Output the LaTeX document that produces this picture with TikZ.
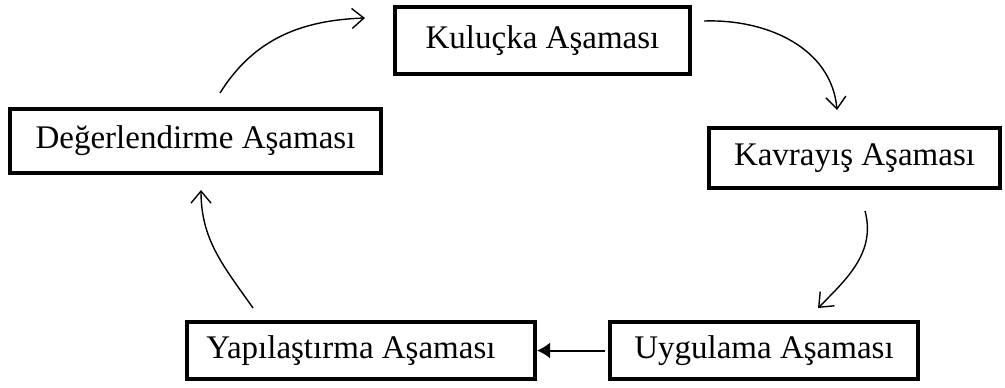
\documentclass[tikz,border=0pt]{standalone}
\usepackage{fontspec}
\setmainfont{Liberation Serif}
\usetikzlibrary{arrows.meta,calc}

\begin{document}
\begin{tikzpicture}[x=0.5pt,y=0.5pt,
  stage/.style={draw,line width=2pt,rectangle,inner sep=0pt,
    font=\fontsize{16.5}{19}\selectfont},
  flow/.style={line width=0.7pt,-{Straight Barb[length=6pt,width=10pt,line width=0.7pt]}},
  push/.style={line width=1pt,-{Latex[length=6.5pt,width=8pt]}}
]
\useasboundingbox (0,0) rectangle (1005,-387);

% stages of the cycle (coordinates in pixels, y downwards; sizes in pt)
\node[stage,minimum width=147.5pt,minimum height=33.5pt] (kul) at (542.5,-40.5) {Kuluçka Aşaması};
\node[stage,minimum width=145.5pt,minimum height=30pt] (kav) at (854.5,-158) {Kavrayış Aşaması};
\node[stage,minimum width=185.5pt,minimum height=32pt] (deg) at (195.5,-141) {Değerlendirme Aşaması};
\node[stage,minimum width=174pt,minimum height=28.5pt] (yap) at (361,-350.5) {\kern-10pt Yapılaştırma Aşaması};
\node[stage,minimum width=154pt,minimum height=28.5pt] (uyg) at (764,-350.5) {Uygulama Aşaması};

% curved transitions between the stages
\draw[flow] ($(deg.north)+(24.5,14)$) to[out=58,in=182,looseness=1] ($(kul.west)+(-28,22.5)$);
\draw[flow] ($(kul.east)+(12,19.5)$) to[out=2,in=95,looseness=1] ($(kav.north)+(-17.5,16)$);
\draw[flow] ($(kav.south)+(10.5,-21)$) to[out=-75,in=45,looseness=1] ($(uyg.north)+(54,12)$);
\draw[push] ($(uyg.west)+(-3,0)$) -- (yap.east);
\draw[flow] ($(yap.north)+(-108,12)$) to[out=125,in=-90,looseness=1] ($(deg.south)+(5.5,-15)$);
\end{tikzpicture}
\end{document}
